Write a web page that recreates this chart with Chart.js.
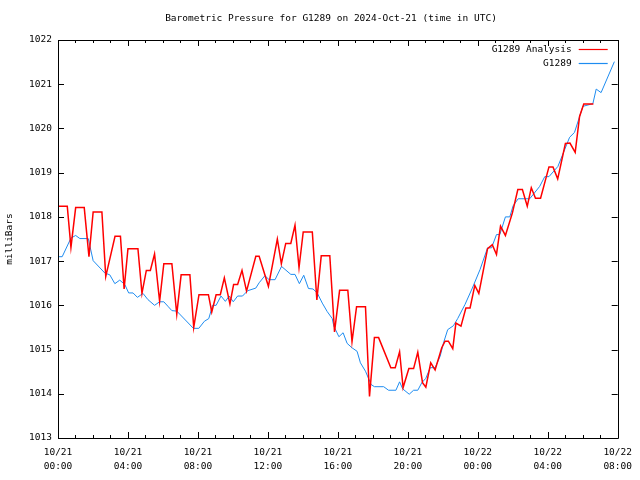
<!DOCTYPE html>
<html>
<head>
<meta charset="utf-8">
<script src="https://cdn.jsdelivr.net/npm/chart.js@4.4.1/dist/chart.umd.min.js"></script>
<style>
  html, body { margin: 0; padding: 0; background: #fff; }
  canvas { display: block; }
</style>
</head>
<body>
<canvas id="pressureChart" width="640" height="480"></canvas>
<script>
// hours after 10/21 00:00 UTC, and pressure in mb
const analysisHours = [0.00, 0.53, 0.74, 1.01, 1.50, 1.77, 2.01, 2.51, 2.73, 3.26, 3.57, 3.78, 4.00, 4.57, 4.80, 5.05, 5.28, 5.52, 5.81, 6.05,
    6.51, 6.79, 7.04, 7.54, 7.76, 8.06, 8.60, 8.79, 9.04, 9.28, 9.51, 9.83, 10.04, 10.27, 10.52, 10.78, 11.31, 11.50, 12.03, 12.54,
    12.77, 13.02, 13.31, 13.55, 13.78, 14.02, 14.54, 14.80, 15.05, 15.54, 15.81, 16.10, 16.57, 16.81, 17.07, 17.58, 17.81, 18.09, 18.33, 19.03,
    19.28, 19.53, 19.73, 20.06, 20.33, 20.57, 20.84, 21.03, 21.31, 21.56, 21.94, 22.13, 22.32, 22.57, 22.75, 23.04, 23.32, 23.56, 23.83, 24.06,
    24.56, 24.83, 25.07, 25.30, 25.58, 25.98, 26.29, 26.55, 26.83, 27.06, 27.30, 27.59, 28.07, 28.30, 28.57, 29.01, 29.27, 29.57, 29.82, 30.06,
    30.61];
const analysisValues = [1018.24, 1018.24, 1017.31, 1018.21, 1018.21, 1017.10, 1018.11, 1018.11, 1016.65, 1017.56, 1017.56, 1016.37, 1017.28, 1017.28, 1016.27, 1016.79, 1016.79, 1017.16, 1016.09, 1016.94,
    1016.94, 1015.80, 1016.69, 1016.69, 1015.50, 1016.24, 1016.24, 1015.85, 1016.24, 1016.24, 1016.62, 1016.03, 1016.47, 1016.47, 1016.79, 1016.32, 1017.11, 1017.11, 1016.43, 1017.50,
    1016.94, 1017.40, 1017.40, 1017.81, 1016.85, 1017.66, 1017.66, 1016.12, 1017.12, 1017.12, 1015.40, 1016.34, 1016.34, 1015.18, 1015.97, 1015.97, 1013.94, 1015.27, 1015.27, 1014.59,
    1014.59, 1014.95, 1014.14, 1014.57, 1014.57, 1014.94, 1014.25, 1014.15, 1014.70, 1014.54, 1015.04, 1015.19, 1015.19, 1015.02, 1015.60, 1015.53, 1015.94, 1015.94, 1016.45, 1016.27,
    1017.28, 1017.37, 1017.15, 1017.79, 1017.58, 1018.09, 1018.62, 1018.62, 1018.24, 1018.66, 1018.42, 1018.42, 1019.13, 1019.13, 1018.86, 1019.66, 1019.67, 1019.46, 1020.27, 1020.55,
    1020.55];

const stationHours = [0.00, 0.24, 0.74, 1.01, 1.25, 1.73, 2.01, 2.68, 2.96, 3.25, 3.53, 3.82, 4.04, 4.29, 4.54, 4.86, 5.14, 5.52, 5.81, 6.05,
    6.28, 6.51, 6.79, 7.74, 8.05, 8.37, 8.62, 8.84, 9.04, 9.32, 9.57, 9.79, 10.02, 10.27, 10.55, 10.84, 11.31, 11.50, 11.83, 12.07,
    12.41, 12.78, 13.31, 13.55, 13.80, 14.05, 14.32, 14.58, 14.82, 15.11, 15.39, 15.68, 15.77, 16.06, 16.30, 16.53, 16.81, 17.10, 17.29, 17.58,
    17.90, 18.09, 18.62, 18.90, 19.32, 19.53, 19.71, 20.08, 20.33, 20.57, 20.80, 21.03, 21.28, 21.56, 21.85, 22.04, 22.28, 22.61, 22.85, 23.27,
    23.69, 24.13, 24.56, 24.79, 25.07, 25.26, 25.58, 25.83, 26.02, 26.31, 26.97, 27.54, 27.83, 28.07, 28.58, 29.25, 29.53, 30.01, 30.58, 30.77,
    31.05, 31.81];
const stationValues = [1017.10, 1017.10, 1017.52, 1017.58, 1017.51, 1017.51, 1017.01, 1016.73, 1016.69, 1016.49, 1016.57, 1016.47, 1016.28, 1016.28, 1016.18, 1016.27, 1016.13, 1016.00, 1016.08, 1016.08,
    1015.98, 1015.88, 1015.87, 1015.48, 1015.48, 1015.64, 1015.70, 1016.00, 1016.00, 1016.21, 1016.09, 1016.21, 1016.08, 1016.21, 1016.21, 1016.33, 1016.39, 1016.51, 1016.67, 1016.58,
    1016.58, 1016.88, 1016.70, 1016.70, 1016.49, 1016.68, 1016.38, 1016.37, 1016.28, 1016.05, 1015.86, 1015.70, 1015.53, 1015.29, 1015.38, 1015.14, 1015.04, 1014.96, 1014.70, 1014.51,
    1014.21, 1014.16, 1014.16, 1014.08, 1014.08, 1014.27, 1014.11, 1013.99, 1014.08, 1014.08, 1014.25, 1014.35, 1014.59, 1014.59, 1014.85, 1015.15, 1015.45, 1015.54, 1015.70, 1016.02,
    1016.39, 1016.81, 1017.30, 1017.30, 1017.60, 1017.60, 1018.00, 1018.00, 1018.25, 1018.41, 1018.41, 1018.69, 1018.91, 1018.91, 1019.14, 1019.80, 1019.91, 1020.50, 1020.56, 1020.89,
    1020.81, 1021.51];

// x tick labels, one every 4 hours
const tickHours = [0, 4, 8, 12, 16, 20, 24, 28, 32];
const tickDates = ['10/21', '10/21', '10/21', '10/21', '10/21', '10/21', '10/22', '10/22', '10/22'];
const tickTimes = ['00:00', '04:00', '08:00', '12:00', '16:00', '20:00', '00:00', '04:00', '08:00'];

const chartTitle = 'Barometric Pressure for G1289 on 2024-Oct-21 (time in UTC)';
const seriesLabels = ['G1289 Analysis', 'G1289'];
const seriesColors = ['#ff0000', '#1e8cf0'];
const FONT = { family: "'DejaVu Sans Mono', monospace", size: 9.5 };

function toPoints(xs, ys) {
    return xs.map((x, i) => ({ x: x, y: ys[i] }));
}

// gnuplot style frame: title, border box, inward ticks, legend in the top right corner
const framePlugin = {
    id: 'frame',
    afterDatasetsDraw(chart) {
        const ctx = chart.ctx;
        const a = chart.chartArea;
        const xs = chart.scales.x;
        const ys = chart.scales.y;
        ctx.save();
        ctx.strokeStyle = '#000';
        ctx.lineWidth = 1;
        ctx.beginPath();
        ctx.rect(Math.round(a.left) + 0.5, Math.round(a.top) + 0.5, Math.round(a.right - a.left), Math.round(a.bottom - a.top));
        xs.ticks.forEach(t => {
            const px = Math.round(xs.getPixelForValue(t.value)) + 0.5;
            const len = tickHours.includes(t.value) ? 6 : 3;
            ctx.moveTo(px, a.bottom);
            ctx.lineTo(px, a.bottom - len);
            ctx.moveTo(px, a.top);
            ctx.lineTo(px, a.top + len);
        });
        ys.ticks.forEach(t => {
            const py = Math.round(ys.getPixelForValue(t.value)) + 0.5;
            ctx.moveTo(a.left, py);
            ctx.lineTo(a.left + 6, py);
            ctx.moveTo(a.right, py);
            ctx.lineTo(a.right - 6, py);
        });
        ctx.stroke();

        ctx.font = FONT.size + 'px ' + FONT.family;
        ctx.fillStyle = '#000';
        ctx.textBaseline = 'middle';

        // title
        ctx.textAlign = 'center';
        ctx.fillText(chartTitle, 331, 19);

        // legend
        ctx.textAlign = 'right';
        seriesLabels.forEach((label, i) => {
            const y = Math.round(a.top + 9 + i * 13.5) + 0.5;
            ctx.fillStyle = '#000';
            ctx.fillText(label, a.right - 46, y);
            ctx.beginPath();
            ctx.strokeStyle = seriesColors[i];
            ctx.lineWidth = 1.2;
            ctx.moveTo(a.right - 39, y);
            ctx.lineTo(a.right - 10, y);
            ctx.stroke();
        });
        ctx.restore();
    }
};

new Chart(document.getElementById('pressureChart'), {
    type: 'line',
    data: {
        datasets: [{
            label: seriesLabels[0],
            data: toPoints(analysisHours, analysisValues),
            borderColor: seriesColors[0],
            borderWidth: 1.5,
            pointRadius: 0,
            tension: 0
        }, {
            label: seriesLabels[1],
            data: toPoints(stationHours, stationValues),
            borderColor: seriesColors[1],
            borderWidth: 1,
            pointRadius: 0,
            tension: 0
        }]
    },
    options: {
        responsive: false,
        animation: false,
        devicePixelRatio: 1,
        layout: { padding: { top: 40, right: 20 } },
        plugins: {
            legend: { display: false },
            tooltip: { enabled: false },
            title: { display: false }
        },
        scales: {
            x: {
                type: 'linear',
                min: 0,
                max: 32,
                grid: { display: false, drawTicks: false },
                border: { display: false },
                ticks: {
                    stepSize: 1,
                    autoSkip: false,
                    maxRotation: 0,
                    minRotation: 0,
                    padding: 8,
                    color: '#000',
                    font: { family: FONT.family, size: FONT.size, lineHeight: 1.45 },
                    callback: function(value) {
                        const i = tickHours.indexOf(value);
                        return i >= 0 ? [tickDates[i], tickTimes[i]] : '';
                    }
                },
                afterFit: function(scale) { scale.height = 42; }
            },
            y: {
                min: 1013,
                max: 1022,
                grid: { display: false, drawTicks: false },
                border: { display: false },
                ticks: {
                    stepSize: 1,
                    padding: 6,
                    color: '#000',
                    font: { family: FONT.family, size: FONT.size },
                    callback: function(value) { return String(value); }
                },
                title: {
                    display: true,
                    text: 'milliBars',
                    color: '#000',
                    font: { family: FONT.family, size: FONT.size },
                    padding: { top: 4, bottom: 0 }
                },
                afterFit: function(scale) { scale.width = 58; }
            }
        }
    },
    plugins: [framePlugin]
});
</script>
</body>
</html>
